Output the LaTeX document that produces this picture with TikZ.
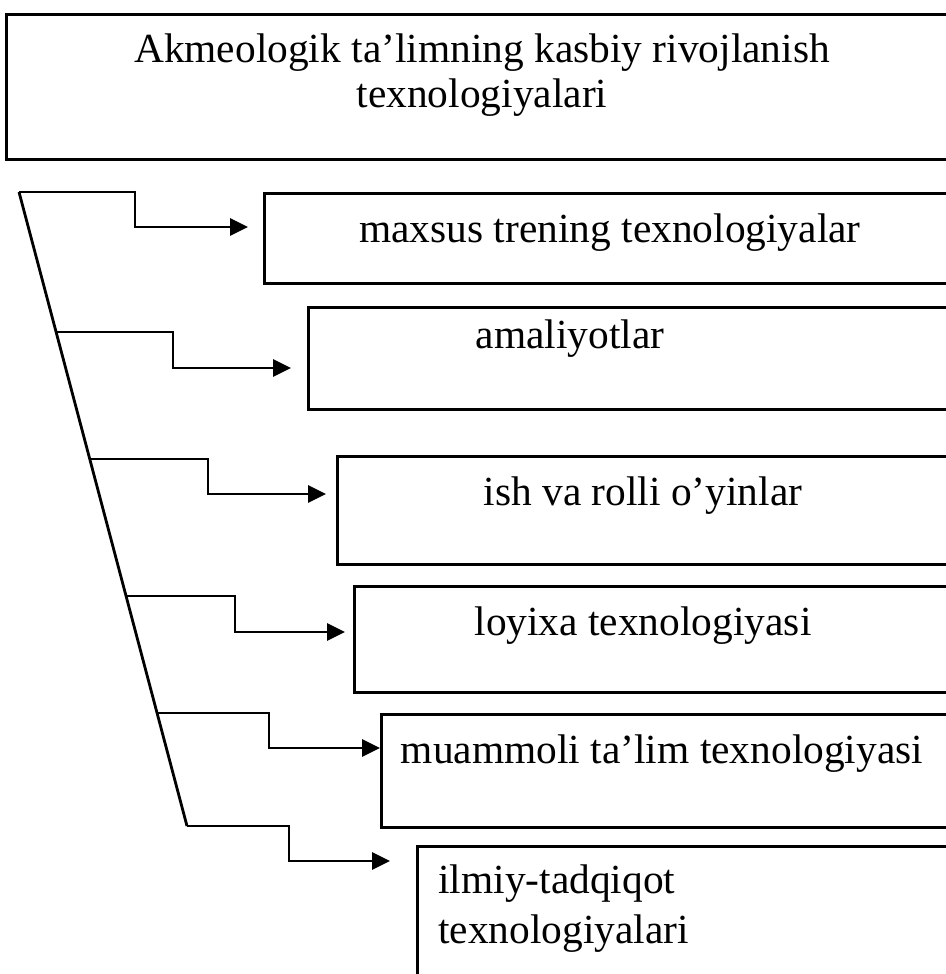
\documentclass[tikz,border=0pt]{standalone}
\usepackage{fontspec}
\setmainfont{Liberation Serif}
\usepackage{tikz}
\usetikzlibrary{calc, positioning, arrows.meta}
\tikzset{
  box/.style={draw, line width=1.4pt, inner sep=0pt, anchor=north west},
  lbl/.style={font=\fontsize{20.7}{22.5}\selectfont, inner sep=0pt, anchor=base},
  branch/.style={line width=1.4pt, -{Triangle[length=9pt,width=8.5pt]}}
}

\begin{document}
\begin{tikzpicture}[x=0.5pt,y=-0.5pt]
        \useasboundingbox (0,0) rectangle (946,974);
        \clip (0,0) rectangle (946,974);
        % boxes
        \node[box, minimum width=477.5pt, minimum height=72.5pt] (b0) at (5,13) {};
        \node[box, minimum width=348.5pt, minimum height=45pt] (b1) at (263,192) {};
        \node[box, minimum width=326.5pt, minimum height=51pt] (b2) at (307,306) {};
        \node[box, minimum width=312pt, minimum height=54pt] (b3) at (336,455) {};
        \node[box, minimum width=303.5pt, minimum height=53pt] (b4) at (353,585) {};
        \node[box, minimum width=290pt, minimum height=56.5pt] (b5) at (380,713) {};
        \node[box, minimum width=272pt, minimum height=72.5pt] (b6) at (416,845) {};
        % texts (multi-line: base is the last line)
        \node[lbl, align=center] (t0) at (482,108) {Akmeologik ta’limning kasbiy rivojlanish\\texnologiyalari};
        \node[lbl] (t1) at (610,242) {maxsus trening texnologiyalar};
        \node[lbl] (t2) at (570,348) {amaliyotlar};
        \node[lbl] (t3) at (643,505) {ish va rolli o’yinlar};
        \node[lbl] (t4) at (643,635) {loyixa texnologiyasi};
        \node[lbl] (t5) at (662,763) {muammoli ta’lim texnologiyasi};
        \node[lbl, align=left, anchor=base west] (t6) at (438,943) {ilmiy-tadqiqot\\[2.5pt]texnologiyalari};
        % slanted stem
        \coordinate (top) at (19,192);
        \coordinate (bot) at (187,826);
        \draw[line width=1.4pt] (top) -- (bot);
        \coordinate (s2) at ($(top)!0.2208!(bot)$);
        \coordinate (s3) at ($(top)!0.4211!(bot)$);
        \coordinate (s4) at ($(top)!0.6372!(bot)$);
        \coordinate (s5) at ($(top)!0.8218!(bot)$);
        % branches
        \coordinate (e1) at (135,227);  \coordinate (a1) at (248,227);
        \coordinate (e2) at (173,368);  \coordinate (a2) at (291,368);
        \coordinate (e3) at (208,494);  \coordinate (a3) at (326,494);
        \coordinate (e4) at (235,632);  \coordinate (a4) at (345,632);
        \coordinate (e5) at (269,748);  \coordinate (a5) at (b5.west |- e5);
        \coordinate (e6) at (289,861);  \coordinate (a6) at (390,861);
        \draw[branch] (top) -| (e1) -- (a1);
        \draw[branch] (s2) -| (e2) -- (a2);
        \draw[branch] (s3) -| (e3) -- (a3);
        \draw[branch] (s4) -| (e4) -- (a4);
        \draw[branch] (s5) -| (e5) -- (a5);
        \draw[branch] (bot) -| (e6) -- (a6);
\end{tikzpicture}
\end{document}
